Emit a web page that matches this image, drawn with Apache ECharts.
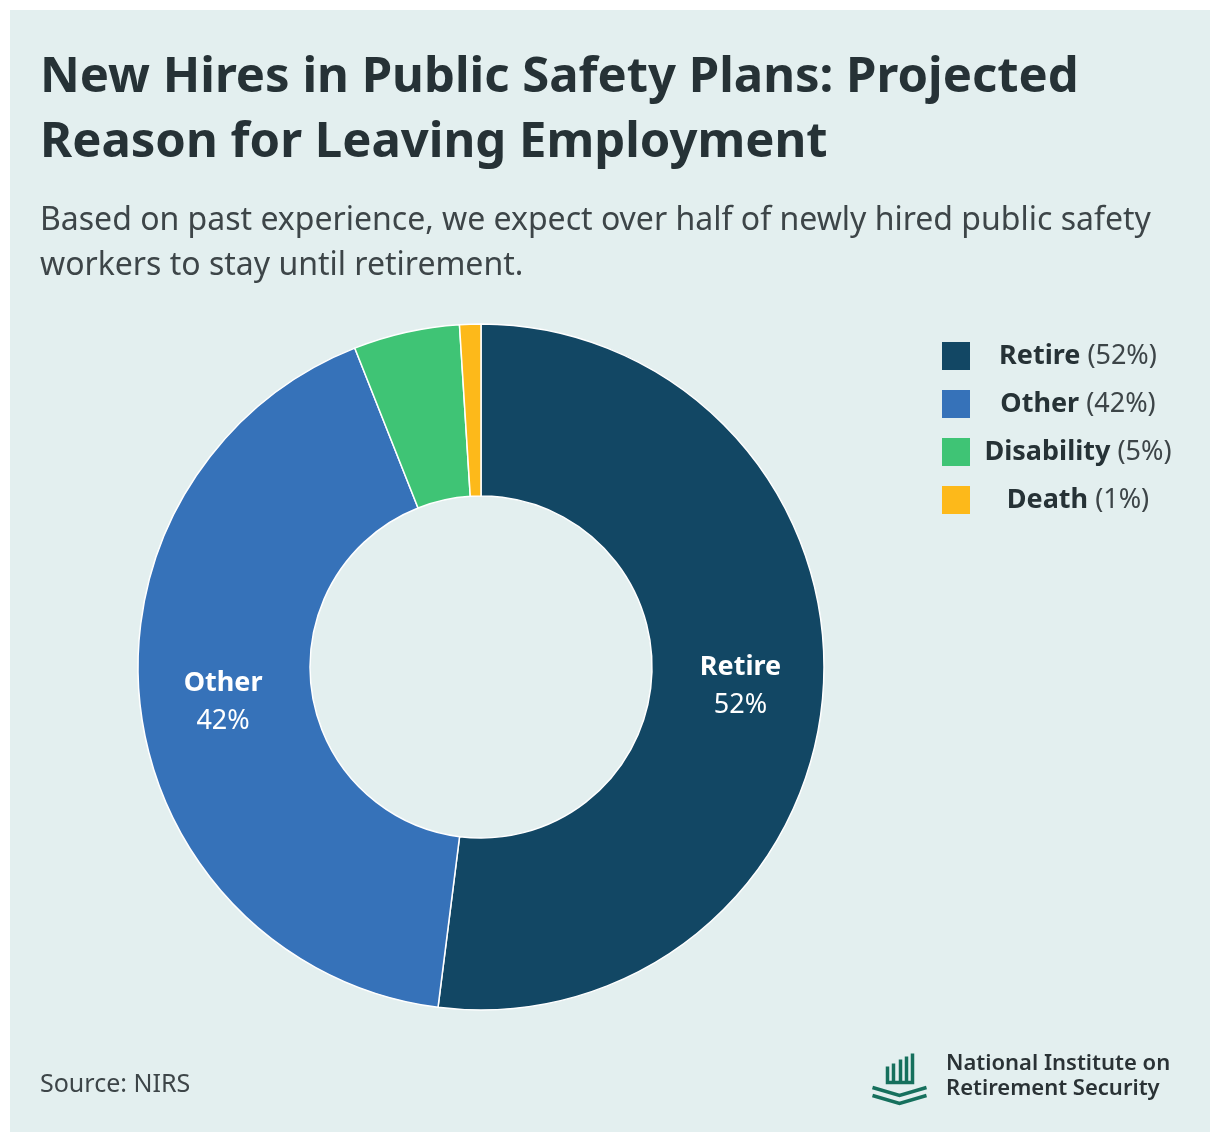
<!DOCTYPE html>
<html>
<head>
<meta charset="utf-8">
<script src="https://cdn.jsdelivr.net/npm/echarts@6/dist/echarts.min.js"></script>
<style>
html,body{margin:0;padding:0;background:#fff;}
#c{width:1220px;height:1142px;}
</style>
</head>
<body>
<div id="c"></div>
<script>
const categories = ['Retire', 'Other', 'Disability', 'Death'];
const values = [52, 42, 5, 1];
const colors = ['#124764', '#3672b9', '#3fc475', '#fdb91a'];
const showLabel = [true, true, false, false];

const FONT = '"Noto Sans", sans-serif';
const chart = echarts.init(document.getElementById('c'));

const data = categories.map((name, i) => ({
  name, value: values[i],
  itemStyle: { color: colors[i] },
  label: { show: showLabel[i] }
}));

chart.setOption({
  backgroundColor: '#ffffff',
  graphic: [
    { type: 'rect', shape: { x: 10, y: 10, width: 1200, height: 1122 }, style: { fill: '#e3efef' }, z: -10 },
    { type: 'text', left: 40, top: 46, style: { text: 'New Hires in Public Safety Plans: Projected\nReason for Leaving Employment', font: 'bold 49px ' + FONT, fill: '#263236', lineHeight: 65 } },
    { type: 'text', left: 40, top: 198, style: { text: 'Based on past experience, we expect over half of newly hired public safety\nworkers to stay until retirement.', font: '32px ' + FONT, fill: '#3d4548', lineHeight: 45 } },
    { type: 'text', left: 40, top: 1072, style: { text: 'Source: NIRS', font: '25px ' + FONT, fill: '#3d4548' } },
    { type: 'text', left: 946, top: 1051, style: { text: 'National Institute on\nRetirement Security', font: '600 22px ' + FONT, fill: '#2a3235', lineHeight: 25 } },
    { type: 'group', left: 870, top: 1051, children: [
      { type: 'polyline', shape: { points: [[17,14],[17,30],[42,30],[42,1]] }, style: { stroke: '#16705d', lineWidth: 3.5, fill: null } },
      { type: 'line', shape: { x1: 23, y1: 11, x2: 23, y2: 30 }, style: { stroke: '#16705d', lineWidth: 3.5 } },
      { type: 'line', shape: { x1: 30, y1: 7, x2: 30, y2: 30 }, style: { stroke: '#16705d', lineWidth: 3.5 } },
      { type: 'line', shape: { x1: 36, y1: 4, x2: 36, y2: 30 }, style: { stroke: '#16705d', lineWidth: 3.5 } },
      { type: 'polyline', shape: { points: [[2,35],[29,43],[56,35]] }, style: { stroke: '#16705d', lineWidth: 3.5, fill: null } },
      { type: 'polyline', shape: { points: [[2,43],[29,51],[56,43]] }, style: { stroke: '#16705d', lineWidth: 3.5, fill: null } }
    ]}
  ],
  legend: {
    orient: 'vertical',
    left: 942, top: 342,
    padding: 0,
    itemWidth: 28, itemHeight: 28, itemGap: 20,
    icon: 'rect',
    itemStyle: { borderWidth: 0 },
    formatter: function (name) {
      const v = values[categories.indexOf(name)];
      return '{b|' + name + ' }{n|(' + v + '%)}';
    },
    textStyle: {
      width: 206, align: 'center', lineHeight: 28,
      rich: {
        b: { fontFamily: FONT, fontWeight: 'bold', fontSize: 27, color: '#263236', align: 'center', lineHeight: 28 },
        n: { fontFamily: FONT, fontSize: 27, color: '#3d4548', align: 'center', lineHeight: 28 }
      }
    },
    data: categories
  },
  series: [{
    type: 'pie',
    center: [481, 667],
    radius: [171, 343],
    startAngle: 90,
    clockwise: true,
    avoidLabelOverlap: false,
    itemStyle: { borderColor: '#ffffff', borderWidth: 1.5 },
    label: {
      position: 'inside',
      formatter: '{b|{b}}\n{n|{c}%}',
      padding: [6, 0, 0, 0],
      rich: {
        b: { fontFamily: FONT, fontWeight: 'bold', fontSize: 27, color: '#ffffff', lineHeight: 38 },
        n: { fontFamily: FONT, fontSize: 27, color: '#ffffff', lineHeight: 38 }
      }
    },
    labelLine: { show: false },
    emphasis: { disabled: true },
    data: data
  }],
  animation: false
});
</script>
</body>
</html>
